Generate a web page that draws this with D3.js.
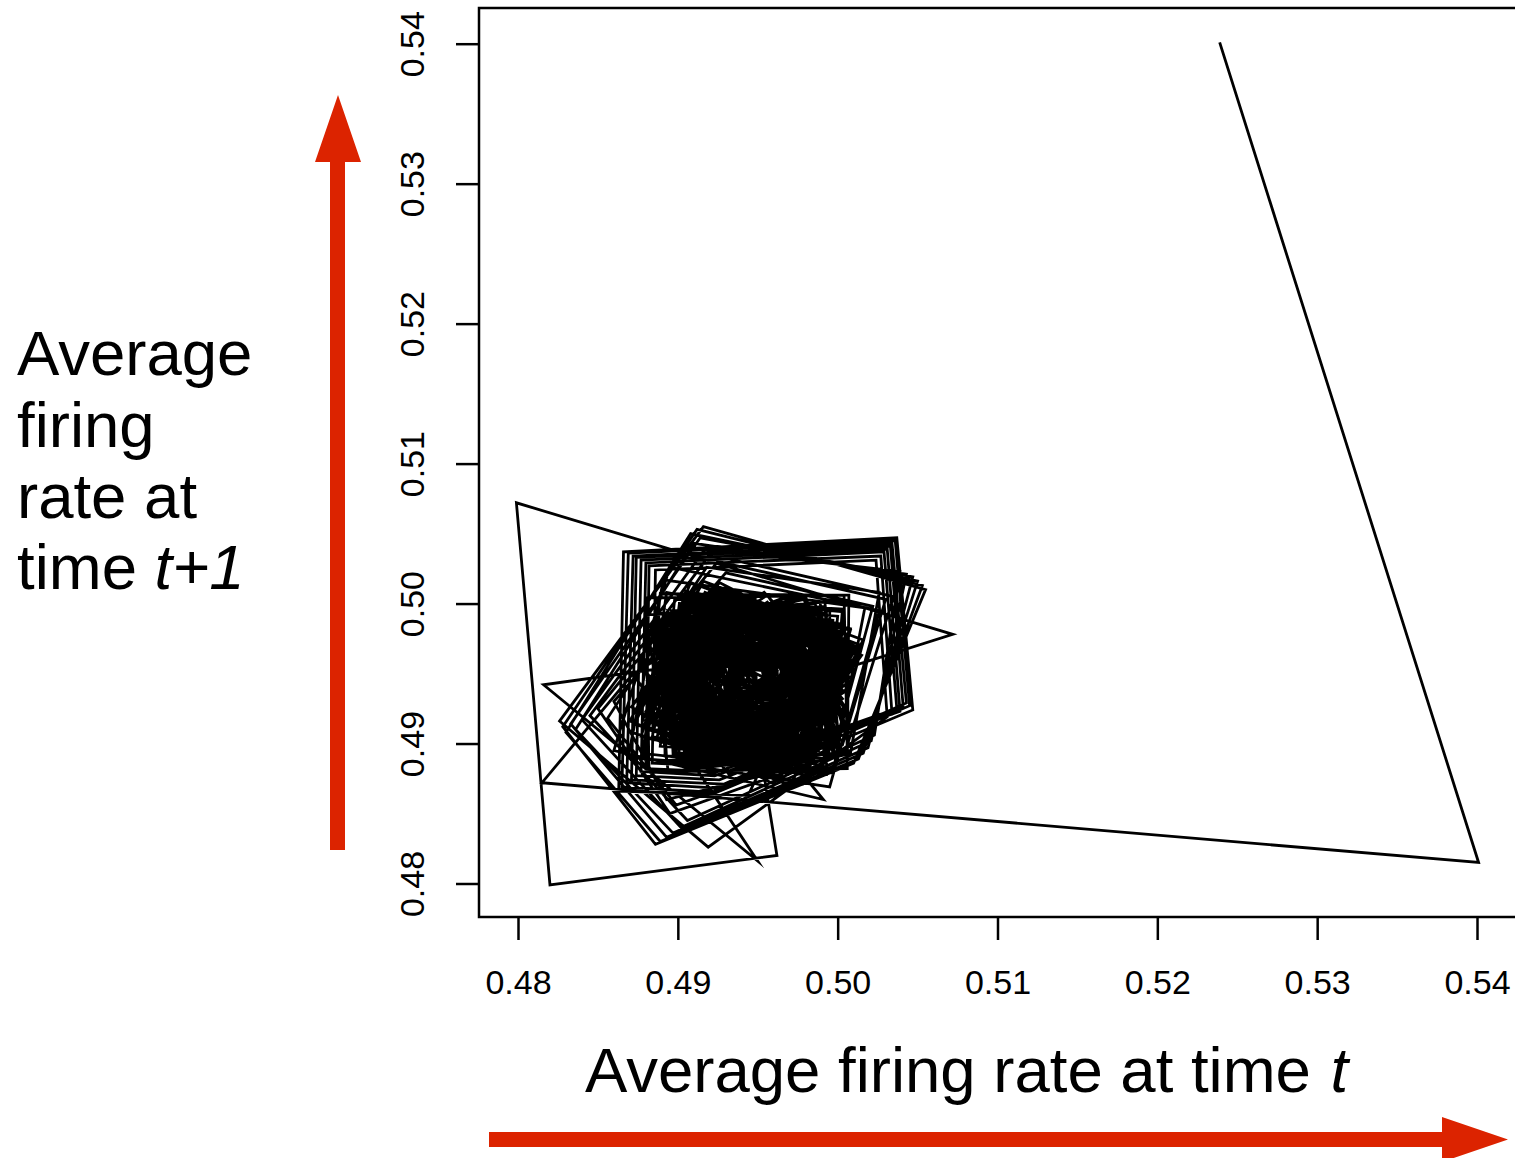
<!DOCTYPE html>
<html>
<head>
<meta charset="utf-8">
<script src="https://cdn.jsdelivr.net/npm/d3@7"></script>
<style>
  html, body { margin: 0; padding: 0; background: #ffffff; }
  svg { display: block; }
  text { font-family: "Liberation Sans", Arial, Helvetica, sans-serif; fill: #000; }
</style>
</head>
<body>
<svg id="chart" width="1515" height="1158"></svg>
<script>
// ---- data ----
const xTicks = [0.48, 0.49, 0.50, 0.51, 0.52, 0.53, 0.54];
const yTicks = [0.48, 0.49, 0.50, 0.51, 0.52, 0.53, 0.54];
const xTickLabels = ["0.48", "0.49", "0.50", "0.51", "0.52", "0.53", "0.54"];
const yTickLabels = ["0.48", "0.49", "0.50", "0.51", "0.52", "0.53", "0.54"];
const xTitle = "Average firing rate at time ";
const xTitleItalic = "t";
const yTitleLines = ["Average", "firing", "rate at", "time "];
const yTitleItalic = "t+1";

// transient at the start of the run
const transientRate = [
  0.5239, 0.5401, 0.4815, 0.4872, 0.4950, 0.4816, 0.4942, 0.4962, 0.4820, 0.4799, 0.5072, 0.4978, 0.4944
];
// large, nearly axis-aligned loops
const outerRate = [
  0.4863, 0.4866, 0.5037, 0.5047, 0.4924,
  0.4865, 0.4869, 0.5036, 0.5045, 0.4927,
  0.4868, 0.4872, 0.5034, 0.5043, 0.4929,
  0.4871, 0.4874, 0.5033, 0.5041, 0.4926,
  0.4874, 0.4877, 0.5031, 0.5039, 0.4923,
  0.4877, 0.4880, 0.5029, 0.5037, 0.4925,
  0.4880, 0.4882, 0.5027, 0.5034, 0.4921,
  0.4884, 0.4886, 0.5024, 0.5031, 0.4919
];
// large tilted loops
const tiltedRate = [
  0.4826, 0.4916, 0.5055, 0.5010, 0.4886,
  0.4828, 0.4912, 0.5053, 0.5013, 0.4889,
  0.4830, 0.4908, 0.5050, 0.5016, 0.4893,
  0.4833, 0.4914, 0.5047, 0.5019, 0.4897,
  0.4836, 0.4910, 0.5043, 0.5021, 0.4902,
  0.4840, 0.4917, 0.5039, 0.5023, 0.4906,
  0.4845, 0.4920, 0.5035, 0.5005, 0.4895,
  0.4850, 0.4925, 0.5030, 0.5003, 0.4899,
  0.4856, 0.4918, 0.5026, 0.5008, 0.4893,
  0.4860, 0.4930, 0.5022, 0.4998, 0.4897
];
// shrinking loops
const middleRate = [
  0.4991, 0.4860, 0.4895, 0.5026,
  0.4995, 0.4869, 0.4891, 0.5017,
  0.4997, 0.4879, 0.4889, 0.5007,
  0.5006, 0.4882, 0.4880, 0.5004,
  0.5006, 0.4894, 0.4880, 0.4992,
  0.4998, 0.4893, 0.4888, 0.4993,
  0.4993, 0.4878, 0.4893, 0.5008,
  0.4981, 0.4877, 0.4905, 0.5009,
  0.4969, 0.4878, 0.4917, 0.5008,
  0.4960, 0.4871, 0.4926, 0.5015,
  0.4963, 0.4880, 0.4923, 0.5006,
  0.4971, 0.4890, 0.4915, 0.4996,
  0.4982, 0.4887, 0.4904, 0.4999,
  0.4986, 0.4898, 0.4900, 0.4988,
  0.4986, 0.4907, 0.4900, 0.4979,
  0.4997, 0.4908, 0.4889, 0.4978,
  0.4994, 0.4916, 0.4892, 0.4970,
  0.4985, 0.4912, 0.4901, 0.4974,
  0.4984, 0.4897, 0.4902, 0.4989,
  0.4981, 0.4884, 0.4905, 0.5002,
  0.4971, 0.4885, 0.4915, 0.5001,
  0.4962, 0.4888, 0.4924, 0.4998,
  0.4952, 0.4894, 0.4934, 0.4992,
  0.4945, 0.4888, 0.4941, 0.4998,
  0.4938, 0.4883, 0.4948, 0.5003,
  0.4932, 0.4878, 0.4954, 0.5008,
  0.4941, 0.4881, 0.4945, 0.5005,
  0.4949, 0.4889, 0.4937, 0.4997,
  0.4955, 0.4896, 0.4931, 0.4990,
  0.4961, 0.4903, 0.4925, 0.4983,
  0.4971, 0.4899, 0.4915, 0.4987,
  0.4982, 0.4897, 0.4904, 0.4989,
  0.4993, 0.4897, 0.4893, 0.4989,
  0.5001, 0.4900, 0.4885, 0.4986,
  0.5000, 0.4910, 0.4886, 0.4976,
  0.4996, 0.4919, 0.4890, 0.4967,
  0.4990, 0.4926, 0.4896, 0.4960,
  0.4984, 0.4921, 0.4902, 0.4965,
  0.4984, 0.4911, 0.4902, 0.4975,
  0.4983, 0.4901, 0.4903, 0.4985,
  0.4980, 0.4891, 0.4906, 0.4995,
  0.4976, 0.4881, 0.4910, 0.5005,
  0.4972, 0.4873, 0.4914, 0.5013,
  0.4963, 0.4874, 0.4923, 0.5012,
  0.4969, 0.4885, 0.4917, 0.5001,
  0.4973, 0.4896, 0.4913, 0.4990,
  0.4974, 0.4906, 0.4912, 0.4980,
  0.4972, 0.4915, 0.4914, 0.4971,
  0.4972, 0.4922, 0.4914, 0.4964,
  0.4979, 0.4922, 0.4907, 0.4964,
  0.4982, 0.4912, 0.4904, 0.4974,
  0.4984, 0.4902, 0.4902, 0.4984,
  0.4984, 0.4891, 0.4902, 0.4995,
  0.4982, 0.4880, 0.4904, 0.5006,
  0.4978, 0.4871, 0.4908, 0.5015,
  0.4970, 0.4870, 0.4916, 0.5016,
  0.4974, 0.4880, 0.4912, 0.5006,
  0.4978, 0.4892, 0.4908, 0.4994,
  0.4979, 0.4903, 0.4907, 0.4983,
  0.4978, 0.4913, 0.4908, 0.4973,
  0.4975, 0.4922, 0.4911, 0.4964,
  0.4966, 0.4920, 0.4920, 0.4966,
  0.4957, 0.4919, 0.4929, 0.4967,
  0.4954, 0.4911, 0.4932, 0.4975,
  0.4950, 0.4902, 0.4936, 0.4984,
  0.4960, 0.4896, 0.4926, 0.4990,
  0.4971, 0.4895, 0.4915, 0.4991
];
// long settled phase around the fixed point
const innerRate = [
  0.4982, 0.4884, 0.4910, 0.5008,
  0.4969, 0.4882, 0.4923, 0.5010,
  0.4957, 0.4883, 0.4935, 0.5009,
  0.4946, 0.4888, 0.4946, 0.5004,
  0.4937, 0.4895, 0.4955, 0.4997,
  0.4930, 0.4903, 0.4962, 0.4989,
  0.4926, 0.4911, 0.4966, 0.4981,
  0.4924, 0.4920, 0.4968, 0.4972,
  0.4923, 0.4927, 0.4969, 0.4965,
  0.4922, 0.4932, 0.4970, 0.4960,
  0.4916, 0.4935, 0.4976, 0.4957,
  0.4909, 0.4939, 0.4983, 0.4953,
  0.4902, 0.4946, 0.4990, 0.4946,
  0.4897, 0.4955, 0.4995, 0.4937,
  0.4893, 0.4965, 0.4999, 0.4927,
  0.4894, 0.4976, 0.4998, 0.4916,
  0.4897, 0.4987, 0.4995, 0.4905,
  0.4904, 0.4997, 0.4988, 0.4895,
  0.4915, 0.5000, 0.4977, 0.4892,
  0.4927, 0.4999, 0.4965, 0.4893,
  0.4938, 0.4993, 0.4954, 0.4899,
  0.4946, 0.4986, 0.4946, 0.4906,
  0.4951, 0.4976, 0.4941, 0.4916,
  0.4954, 0.4967, 0.4938, 0.4925,
  0.4954, 0.4960, 0.4938, 0.4932,
  0.4954, 0.4955, 0.4938, 0.4937,
  0.4960, 0.4958, 0.4932, 0.4934,
  0.4969, 0.4959, 0.4923, 0.4933,
  0.4978, 0.4958, 0.4914, 0.4934,
  0.4987, 0.4953, 0.4905, 0.4939,
  0.4996, 0.4946, 0.4896, 0.4946,
  0.5003, 0.4936, 0.4889, 0.4956,
  0.5006, 0.4924, 0.4886, 0.4968,
  0.5005, 0.4912, 0.4887, 0.4980,
  0.5000, 0.4901, 0.4892, 0.4991,
  0.4988, 0.4895, 0.4904, 0.4997,
  0.4976, 0.4894, 0.4916, 0.4998,
  0.4964, 0.4895, 0.4928, 0.4997,
  0.4954, 0.4901, 0.4938, 0.4991,
  0.4946, 0.4908, 0.4946, 0.4984,
  0.4938, 0.4903, 0.4954, 0.4989,
  0.4928, 0.4897, 0.4964, 0.4995,
  0.4916, 0.4894, 0.4976, 0.4998,
  0.4904, 0.4895, 0.4988, 0.4997,
  0.4892, 0.4901, 0.5000, 0.4991,
  0.4884, 0.4910, 0.5008, 0.4982,
  0.4882, 0.4923, 0.5010, 0.4969,
  0.4885, 0.4935, 0.5007, 0.4957,
  0.4891, 0.4946, 0.5001, 0.4946,
  0.4899, 0.4954, 0.4993, 0.4938,
  0.4908, 0.4960, 0.4984, 0.4932,
  0.4918, 0.4962, 0.4974, 0.4930,
  0.4928, 0.4961, 0.4964, 0.4931,
  0.4933, 0.4961, 0.4959, 0.4931,
  0.4933, 0.4969, 0.4959, 0.4923,
  0.4934, 0.4978, 0.4958, 0.4914,
  0.4939, 0.4987, 0.4953, 0.4905,
  0.4946, 0.4996, 0.4946, 0.4896,
  0.4956, 0.5001, 0.4936, 0.4891,
  0.4967, 0.5004, 0.4925, 0.4888,
  0.4979, 0.5003, 0.4913, 0.4889,
  0.4987, 0.4995, 0.4905, 0.4897,
  0.4990, 0.4983, 0.4902, 0.4909,
  0.4989, 0.4971, 0.4903, 0.4921,
  0.4985, 0.4960, 0.4907, 0.4932,
  0.4981, 0.4952, 0.4911, 0.4940,
  0.4976, 0.4946, 0.4916, 0.4946,
  0.4969, 0.4940, 0.4923, 0.4952,
  0.4963, 0.4936, 0.4929, 0.4956,
  0.4966, 0.4926, 0.4926, 0.4966,
  0.4967, 0.4917, 0.4925, 0.4975,
  0.4965, 0.4906, 0.4927, 0.4986,
  0.4962, 0.4897, 0.4930, 0.4995,
  0.4969, 0.4890, 0.4923, 0.5002,
  0.4977, 0.4888, 0.4915, 0.5004,
  0.4985, 0.4888, 0.4907, 0.5004,
  0.4994, 0.4889, 0.4898, 0.5003,
  0.4996, 0.4897, 0.4896, 0.4995,
  0.4996, 0.4907, 0.4896, 0.4985,
  0.4995, 0.4915, 0.4897, 0.4977,
  0.4993, 0.4923, 0.4899, 0.4969,
  0.4989, 0.4930, 0.4903, 0.4962,
  0.4985, 0.4939, 0.4907, 0.4953,
  0.4980, 0.4946, 0.4912, 0.4946,
  0.4974, 0.4951, 0.4918, 0.4941,
  0.4967, 0.4954, 0.4925, 0.4938,
  0.4960, 0.4954, 0.4932, 0.4938,
  0.4954, 0.4952, 0.4938, 0.4940,
  0.4955, 0.4957, 0.4937, 0.4935,
  0.4956, 0.4963, 0.4936, 0.4929,
  0.4956, 0.4972, 0.4936, 0.4920,
  0.4952, 0.4981, 0.4940, 0.4911,
  0.4946, 0.4990, 0.4946, 0.4902,
  0.4937, 0.4997, 0.4955, 0.4895,
  0.4925, 0.5002, 0.4967, 0.4890,
  0.4913, 0.5003, 0.4979, 0.4889,
  0.4901, 0.5000, 0.4991, 0.4892,
  0.4891, 0.4992, 0.5001, 0.4900,
  0.4887, 0.4980, 0.5005, 0.4912,
  0.4888, 0.4967, 0.5004, 0.4925,
  0.4903, 0.4958, 0.4990, 0.4935,
  0.4921, 0.4953, 0.4972, 0.4940,
  0.4936, 0.4951, 0.4957, 0.4943,
  0.4944, 0.4949, 0.4949, 0.4944,
  0.4952, 0.4941, 0.4941, 0.4952,
  0.4956, 0.4936, 0.4937, 0.4957,
  0.4951, 0.4939, 0.4942, 0.4954,
  0.4947, 0.4943, 0.4946, 0.4950,
  0.4943, 0.4940, 0.4950, 0.4953,
  0.4958, 0.4935, 0.4934, 0.4957,
  0.4960, 0.4945, 0.4932, 0.4947,
  0.4955, 0.4955, 0.4937, 0.4937,
  0.4946, 0.4962, 0.4946, 0.4930,
  0.4935, 0.4958, 0.4957, 0.4934,
  0.4930, 0.4948, 0.4962, 0.4944,
  0.4934, 0.4936, 0.4958, 0.4956,
  0.4945, 0.4930, 0.4947, 0.4962,
  0.4952, 0.4944, 0.4940, 0.4948
];
const firingRate = transientRate.concat(outerRate, tiltedRate, middleRate, innerRate);

// ---- drawing ----
const svg = d3.select("#chart");
const arrowRed = "#DC2300";
const fontStack = "Liberation Sans, Arial, Helvetica, sans-serif";

const x = d3.scaleLinear().domain([0.48, 0.54]).range([518, 1477]);
const y = d3.scaleLinear().domain([0.48, 0.54]).range([883.5, 43.7]);

const box = { left: 479, right: 1517, top: 8, bottom: 917 };

// return-map path (r_t, r_t+1)
const pts = d3.range(firingRate.length - 1).map(i => [firingRate[i], firingRate[i + 1]]);
const line = d3.line().x(d => x(d[0])).y(d => y(d[1]));
svg.append("path")
  .attr("d", line(pts))
  .attr("fill", "none")
  .attr("stroke", "#000")
  .attr("stroke-width", 2.8)
  .attr("stroke-linejoin", "miter")
  .attr("stroke-miterlimit", 10);

// box
svg.append("rect")
  .attr("x", box.left).attr("y", box.top)
  .attr("width", box.right - box.left).attr("height", box.bottom - box.top)
  .attr("fill", "none").attr("stroke", "#000").attr("stroke-width", 2.5);

// x axis
const xAxis = d3.axisBottom(x).tickValues(xTicks)
  .tickFormat((d, i) => xTickLabels[i]).tickSize(23).tickPadding(30);
const gx = svg.append("g").attr("transform", `translate(0,${box.bottom})`).call(xAxis);
gx.select(".domain").remove();
gx.selectAll(".tick line").attr("stroke", "#000").attr("stroke-width", 2.5);
gx.selectAll(".tick text")
  .attr("font-family", fontStack)
  .attr("font-size", 34).attr("fill", "#000");

// y axis
const yAxis = d3.axisLeft(y).tickValues(yTicks)
  .tickFormat((d, i) => yTickLabels[i]).tickSize(23);
const gy = svg.append("g").attr("transform", `translate(${box.left},0)`).call(yAxis);
gy.select(".domain").remove();
gy.selectAll(".tick line").attr("stroke", "#000").attr("stroke-width", 2.5);
gy.selectAll(".tick text")
  .attr("x", 0).attr("dy", null).attr("y", 0)
  .attr("transform", "translate(-55,0) rotate(-90)")
  .attr("text-anchor", "middle")
  .attr("font-family", fontStack)
  .attr("font-size", 34).attr("fill", "#000");

// x title
const xt = svg.append("text")
  .attr("x", 585).attr("y", 1092)
  .attr("font-size", 63.5);
xt.append("tspan").text(xTitle);
xt.append("tspan").attr("font-style", "italic").attr("dx", 2).text(xTitleItalic);

// y title (multi-line)
const baselines = [375, 447, 518, 589];
yTitleLines.forEach((s, i) => {
  const t = svg.append("text").attr("x", 17).attr("y", baselines[i]).attr("font-size", 63.5);
  t.append("tspan").text(s);
  if (i === yTitleLines.length - 1) {
    t.append("tspan").attr("font-style", "italic").text(yTitleItalic);
  }
});

// red arrows
const vArrow = [[330, 850], [330, 162], [315, 162], [338, 95], [361, 162], [345, 162], [345, 850]];
const hArrow = [[489, 1132], [1442, 1132], [1442, 1117], [1508, 1139.5], [1442, 1162], [1442, 1147], [489, 1147]];
svg.append("polygon").attr("points", vArrow.map(p => p.join(",")).join(" ")).attr("fill", arrowRed);
svg.append("polygon").attr("points", hArrow.map(p => p.join(",")).join(" ")).attr("fill", arrowRed);
</script>
</body>
</html>
